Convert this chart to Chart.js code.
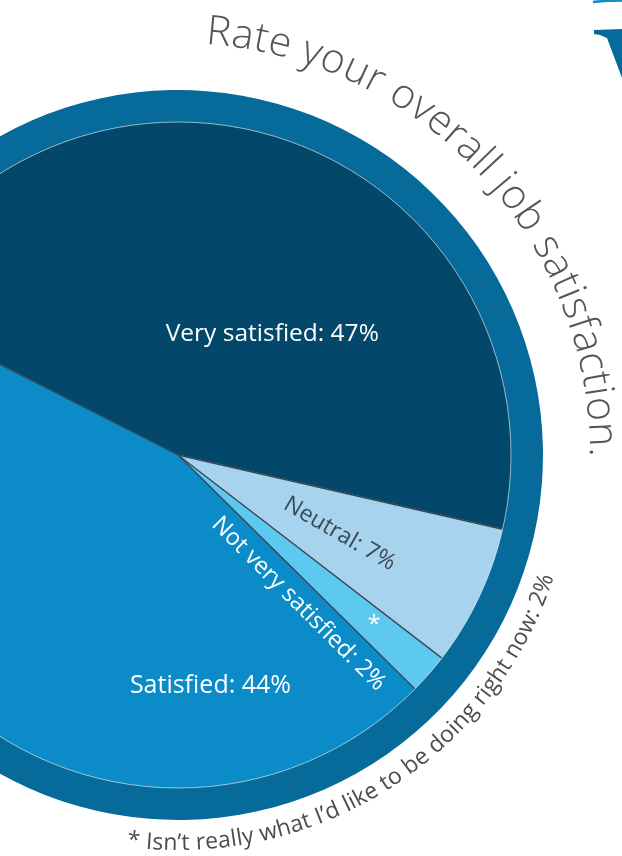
<!DOCTYPE html>
<html>
<head>
<meta charset="utf-8">
<title>Rate your overall job satisfaction</title>
<script src="https://cdn.jsdelivr.net/npm/chart.js@4/dist/chart.umd.min.js"></script>
<style>
  html, body { margin: 0; padding: 0; background: #fff; overflow: hidden; width: 622px; height: 856px; }
  #wrap { position: absolute; left: -200px; top: 0; width: 822px; height: 856px; }
</style>
</head>
<body>
<div id="wrap"><canvas id="chart" width="822" height="856"></canvas></div>
<script>
// data
const categories = ["Very satisfied", "Neutral", "*", "Not very satisfied", "Satisfied"];
const shares = [47, 7, 2, 2, 44];
const sliceLabels = ["Very satisfied: 47%", "Neutral: 7%", "*", "Not very satisfied: 2%", "Satisfied: 44%"];
const titleText = "Rate your overall job satisfaction.";
const footnoteText = "* Isn\u2019t really what I\u2019d like to be doing right now: 2%";

// look
const sliceColors = ["#03476b", "#a8d3ef", "#5dc9f1", "#0b8cc8", "#0b8cc8"];
const ringColor = "#066a9a";
const dividerColor = "#3a4550";
const textGray = "#4d4d4d";
const pageShift = 200; // canvas starts 200px left of the page

// where each slice label sits: polar angle (deg) and fraction of pie radius
const labelPlaces = [
  { angle: -52, r: 0.46, rot: 0, color: "#fff", size: 24.5 },
  { angle: 26, r: 0.54, rot: 30, color: "#3b4a57", size: 23 },
  { angle: 41, r: 0.78, rot: 0, color: "#fff", size: 24 },
  { angle: 51, r: 0.575, rot: 45, color: "#fff", size: 23.5 },
  { angle: 82, r: 0.70, rot: 0, color: "#fff", size: 25 }
];

function arcText(ctx, text, cx, cy, r, startDeg, dir, spacing) {
  let a = startDeg * Math.PI / 180;
  for (const ch of text) {
    const w = ctx.measureText(ch).width + spacing;
    const mid = a + dir * (w / 2) / r;
    ctx.save();
    ctx.translate(cx + r * Math.cos(mid), cy + r * Math.sin(mid));
    ctx.rotate(mid + dir * Math.PI / 2);
    ctx.fillText(ch, 0, 0);
    ctx.restore();
    a += dir * w / r;
  }
}

const decor = {
  id: "decor",
  afterDatasetsDraw(chart) {
    const ctx = chart.ctx;
    const pie = chart.getDatasetMeta(1).data;
    const cx = pie[0].x, cy = pie[0].y, R = pie[0].outerRadius;
    ctx.save();
    // dividers where neighbouring slices differ in colour
    ctx.strokeStyle = dividerColor;
    ctx.lineWidth = 1.3;
    pie.forEach((arc, i) => {
      const prev = (i + pie.length - 1) % pie.length;
      if (sliceColors[prev] === sliceColors[i]) return;
      ctx.beginPath();
      ctx.moveTo(cx, cy);
      ctx.lineTo(cx + R * Math.cos(arc.startAngle), cy + R * Math.sin(arc.startAngle));
      ctx.stroke();
    });
    // thin light line between pie and ring
    ctx.strokeStyle = "rgba(255,255,255,0.55)";
    ctx.lineWidth = 1;
    ctx.beginPath();
    ctx.arc(cx, cy, R, 0, Math.PI * 2);
    ctx.stroke();
    ctx.restore();
  },
  afterDraw(chart) {
    const ctx = chart.ctx;
    const pie = chart.getDatasetMeta(1).data;
    const cx = pie[0].x, cy = pie[0].y, R = pie[0].outerRadius;
    ctx.save();
    // slice labels
    ctx.textAlign = "center";
    ctx.textBaseline = "middle";
    sliceLabels.forEach((txt, i) => {
      const p = labelPlaces[i];
      const a = p.angle * Math.PI / 180;
      ctx.save();
      ctx.translate(cx + R * p.r * Math.cos(a), cy + R * p.r * Math.sin(a));
      ctx.rotate(p.rot * Math.PI / 180);
      ctx.fillStyle = p.color;
      ctx.font = "400 " + p.size + "px 'Open Sans', 'Noto Sans', sans-serif";
      ctx.fillText(txt, 0, 0);
      ctx.restore();
    });
    // curved title and footnote
    ctx.textBaseline = "alphabetic";
    ctx.fillStyle = "#555";
    ctx.font = "300 41px 'Open Sans', 'Noto Sans', sans-serif";
    arcText(ctx, titleText, cx, cy, 412, -86.2, 1, 0.5);
    ctx.fillStyle = textGray;
    ctx.font = "400 23px 'Open Sans', 'Noto Sans', sans-serif";
    arcText(ctx, footnoteText, cx, cy, 395, 97.5, -1, 0.2);

    // logo fragment in the top-right corner
    ctx.translate(pageShift, 0);
    ctx.fillStyle = ringColor;
    ctx.beginPath();
    ctx.moveTo(594, 30);
    ctx.lineTo(622, 29);
    ctx.lineTo(622, 78);
    ctx.lineTo(607, 38);
    ctx.lineTo(600, 35);
    ctx.lineTo(594, 34);
    ctx.closePath();
    ctx.fill();
    ctx.strokeStyle = "#0b8cc8";
    ctx.lineWidth = 2.5;
    ctx.beginPath();
    ctx.moveTo(593, 2);
    ctx.quadraticCurveTo(607, 0.5, 622, 0.5);
    ctx.stroke();
    ctx.restore();
  }
};

function draw() {
  new Chart(document.getElementById("chart"), {
    type: "doughnut",
    data: {
      labels: categories,
      datasets: [
        { data: [1], backgroundColor: ringColor, borderWidth: 0, weight: 32 },
        { data: shares, backgroundColor: sliceColors, borderColor: sliceColors, borderWidth: 1, weight: 333 }
      ]
    },
    options: {
      responsive: false,
      animation: false,
      events: [],
      cutout: 0,
      radius: 365,
      rotation: -63,
      layout: { padding: { left: 13, right: 79, top: 89, bottom: 35 } },
      plugins: { legend: { display: false }, tooltip: { enabled: false } }
    },
    plugins: [decor]
  });
}

Promise.all([
  document.fonts.load("300 41px 'Open Sans'"),
  document.fonts.load("400 23px 'Open Sans'")
]).then(draw, draw);
</script>
</body>
</html>
